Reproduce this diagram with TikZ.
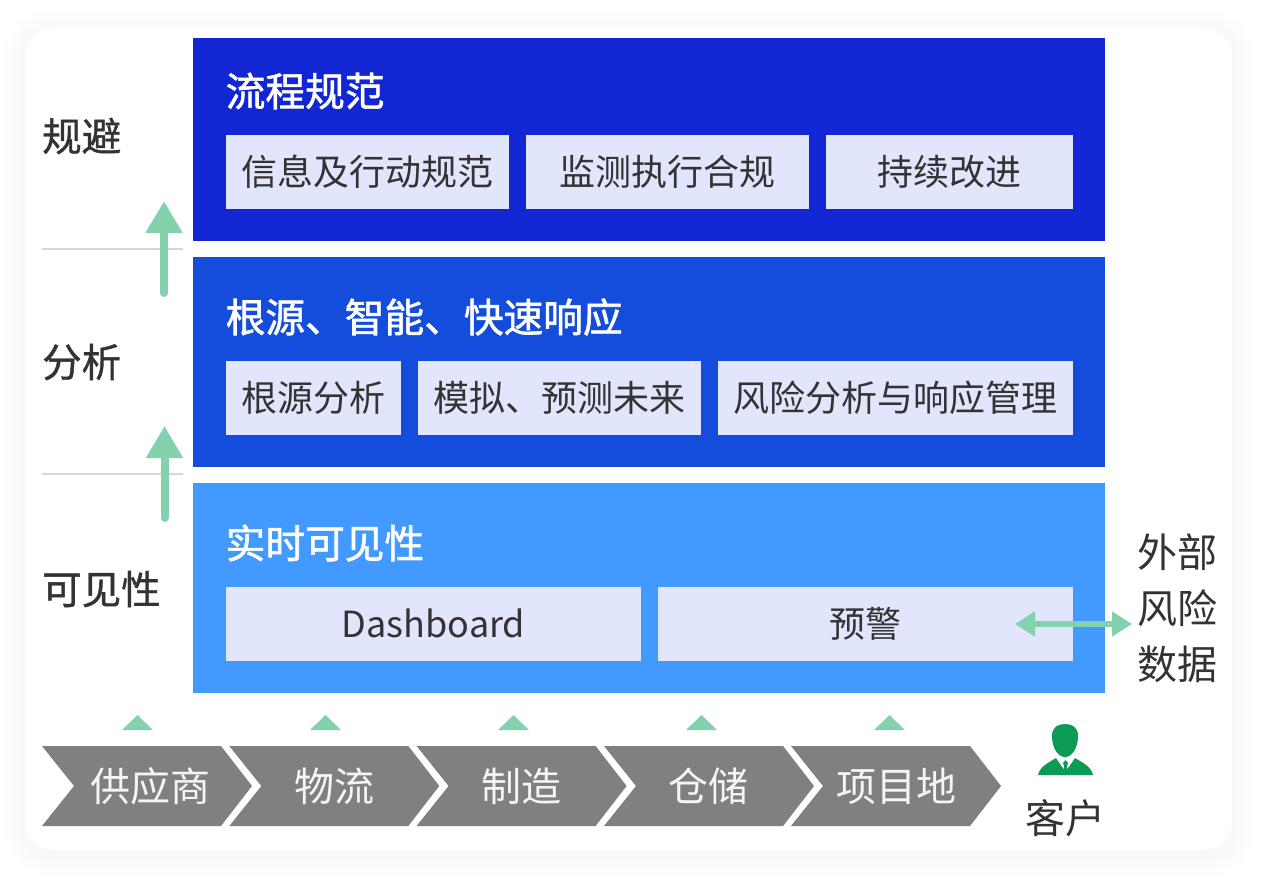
\documentclass[tikz,border=0pt]{standalone}
\usepackage{fontspec}
\setmainfont{Noto Sans CJK SC}
\usepackage{xcolor}
\usetikzlibrary{arrows.meta}
\definecolor{ink}{HTML}{333333}
\definecolor{blueA}{HTML}{1226D4}
\definecolor{blueB}{HTML}{144DDB}
\definecolor{blueC}{HTML}{4299FF}
\definecolor{pale}{HTML}{E1E6FD}
\definecolor{mint}{HTML}{84D2AD}
\definecolor{slate}{HTML}{808080}
\definecolor{rule}{HTML}{D6D6D6}
\definecolor{leaf}{HTML}{0B9B54}
\definecolor{h1}{HTML}{FEFEFF}
\definecolor{h2}{HTML}{FDFDFE}
\definecolor{h3}{HTML}{FBFCFE}
\definecolor{h4}{HTML}{FAFBFD}
\definecolor{h5}{HTML}{F9FAFC}
\definecolor{h6}{HTML}{F8F9FC}
\tikzset{
  panel/.style={anchor=north west, inner sep=0pt, minimum width=912pt},
  itembox/.style={fill=pale, text=ink, inner sep=0pt, minimum height=73.5pt, font=\fontsize{36}{36}\selectfont},
  head/.style={text=white, anchor=west, inner sep=0pt, font=\fontsize{39.7}{40}\selectfont\addfontfeature{FakeBold=1.5}},
  side/.style={text=ink, anchor=west, inner sep=0pt, font=\fontsize{39.5}{40}\selectfont\addfontfeature{FakeBold=1}},
  stage/.style={text=white!92!slate, inner sep=0pt, font=\fontsize{40}{40}\selectfont},
  up/.style={draw=mint, line width=8pt, line cap=round, -{Triangle[length=32pt,width=35pt]}},
  both/.style={draw=mint, line width=6pt, {Triangle[length=20pt,width=24pt]}-{Triangle[length=20pt,width=24pt]}},
  sep/.style={draw=rule, line width=2pt},
}
\begin{document}
\begin{tikzpicture}[x=1pt,y=-1pt]
  \useasboundingbox (0,0) rectangle (1266,884);
  % soft halo round the card
  \fill[white] (0,0) rectangle (1266,884);
  \foreach \g/\tone in {24/h1,20/h2,16/h3,12/h4,8/h5,4/h6}
    \fill[\tone,rounded corners={28pt+\g*1pt}] ({26-\g},{28-\g+4}) rectangle ({1232+\g},{850+\g+4});
  \fill[white,rounded corners=28pt] (26,28) rectangle (1232,850);

  % three layers
  \node[panel,fill=blueA,minimum height=202.5pt] (layerA) at (193.2,38) {};
  \node[panel,fill=blueB,minimum height=209.5pt] (layerB) at (193.2,257) {};
  \node[panel,fill=blueC,minimum height=209.5pt] (layerC) at (193.2,483) {};
  \node[head] (headA) at (225.5,91) {流程规范};
  \node[head] (headB) at (225.5,317) {根源、智能、快速响应};
  \node[head] (headC) at (225.5,543) {实时可见性};

  \foreach \itemname/\cx/\cy/\boxw/\txt in {
    itemA/367.5/171.75/283.6/信息及行动规范,
    itemB/667.5/171.75/283.6/监测执行合规,
    itemC/949.5/171.75/247.6/持续改进,
    itemD/313.5/397.75/175.6/根源分析,
    itemE/559.5/397.75/283.6/模拟、预测未来,
    itemF/895.5/397.75/355.6/风险分析与响应管理,
    itemG/433.5/623.75/415.6/Dashboard,
    itemH/865.5/623.75/415.6/预警}
    \node[itembox,minimum width=\boxw pt] (\itemname) at (\cx,\cy) {\txt};

  % left column
  \node[side] (labelA) at (42,136) {规避};
  \node[side] (labelB) at (42,362) {分析};
  \node[side] (labelC) at (42,589) {可见性};
  \draw[sep] (42,248.5) -- (183,248.5);
  \draw[sep] (42,474) -- (183,474);
  \coordinate (tailA) at (164,293);
  \coordinate (tipA) at (164,201);
  \coordinate (tailB) at (164.5,518);
  \coordinate (tipB) at (164.5,426);
  \draw[up] (tailA) -- (tipA);
  \draw[up] (tailB) -- (tipB);

  % right column
  \node[side,align=left,font=\fontsize{40}{56}\selectfont] (extern) at (1137.5,608.5) {外部\\风险\\数据};
  \coordinate (inL) at (1015,624);
  \coordinate (inR) at (1132,624);
  \draw[both] (inL) -- (inR);

  % chain
  \foreach \i/\lft/\cx/\tri/\txt in {1/42/150/137.5/供应商,2/229.3/334/325.5/物流,3/416.6/521/513.5/制造,4/604/708/701.5/仓储,5/791/896/889.5/项目地}{
    \fill[slate] (\lft,746) -- ++(179,0) -- ++(31,40) -- ++(-31,40) -- ++(-179,0) -- ++(32,-40) -- cycle;
    \fill[mint] ({\tri-15.5},730) -- (\tri,715) -- ({\tri+15.5},730) -- cycle;
    \node[stage] (stage\i) at (\cx,786) {\txt};
  }

  % customer
  \fill[leaf] (1065,724) .. controls (1072,724) and (1078,727) .. (1078,736)
    .. controls (1078,748) and (1072,757) .. (1065,757)
    .. controls (1058,757) and (1052,748) .. (1052,736)
    .. controls (1052,727) and (1058,724) .. (1065,724) -- cycle;
  \fill[leaf] (1038,775) .. controls (1040,767) and (1046,764) .. (1056,758)
    -- (1065.5,772) -- (1075,758)
    .. controls (1085,764) and (1091,767) .. (1093,775) -- cycle;
  \fill[leaf] (1065.5,760) -- (1068,763) -- (1067,766) -- (1068.5,775) -- (1062.5,775) -- (1064,766) -- (1063,763) -- cycle;
  \node[text=ink,inner sep=0pt,font=\fontsize{40}{40}\selectfont] (client) at (1065,818) {客户};
\end{tikzpicture}
\end{document}
